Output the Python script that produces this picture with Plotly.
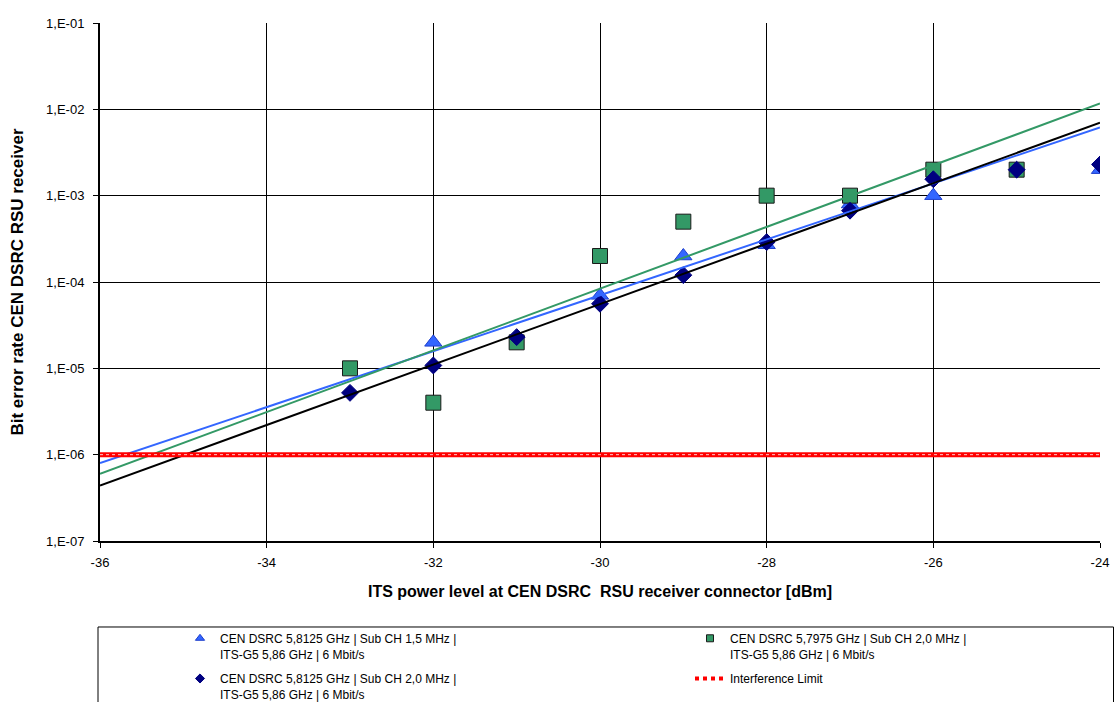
import plotly.graph_objects as go

# ---- data ----
x_tri = [-32, -30, -29, -28, -27, -26, -24]
ber_tri = [2.0e-5, 7.0e-5, 2.0e-4, 2.7e-4, 8.0e-4, 1.0e-3, 2.0e-3]

x_sq = [-33, -32, -31, -30, -29, -28, -27, -26, -25]
ber_sq = [1.0e-5, 4.0e-6, 2.0e-5, 2.0e-4, 5.0e-4, 1.0e-3, 1.0e-3, 2.0e-3, 2.0e-3]

x_dia = [-33, -32, -31, -30, -29, -28, -27, -26, -25, -24]
ber_dia = [5.2e-6, 1.08e-5, 2.3e-5, 5.6e-5, 1.2e-4, 2.9e-4, 6.7e-4, 1.55e-3, 2.0e-3, 2.3e-3]

# exponential trend lines (end values)
trend_x = [-36, -24]
trend_blue = [8.0e-7, 6.15e-3]
trend_green = [6.0e-7, 1.17e-2]
trend_black = [4.4e-7, 7.0e-3]

limit_x = [-36, -24]
limit_y = [1e-6, 1e-6]

x_tickvals = [-36, -34, -32, -30, -28, -26, -24]
x_ticktext = ["-36", "-34", "-32", "-30", "-28", "-26", "-24"]
y_tickvals = [1e-7, 1e-6, 1e-5, 1e-4, 1e-3, 1e-2, 1e-1]
y_ticktext = ["1,E-07", "1,E-06", "1,E-05", "1,E-04", "1,E-03", "1,E-02", "1,E-01"]

name_tri = "CEN DSRC 5,8125 GHz | Sub CH 1,5 MHz |<br>ITS-G5 5,86 GHz | 6 Mbit/s"
name_sq = "CEN DSRC 5,7975 GHz | Sub CH 2,0 MHz |<br>ITS-G5 5,86 GHz | 6 Mbit/s"
name_dia = "CEN DSRC 5,8125 GHz | Sub CH 2,0 MHz |<br>ITS-G5 5,86 GHz | 6 Mbit/s"
name_lim = "Interference Limit"

FONT = "Liberation Sans, Arial, sans-serif"
BLUE = "#3366FF"
GREEN = "#339966"
NAVY = "#000080"

tri_marker = dict(symbol="triangle-up", color=BLUE, line=dict(color="#1F3FCC", width=1))
sq_marker = dict(symbol="square", color=GREEN, line=dict(color="#1a1a1a", width=1))
dia_marker = dict(symbol="diamond", color=NAVY, line=dict(color=NAVY, width=1))

fig = go.Figure()

# data series
fig.add_trace(go.Scatter(x=x_tri, y=ber_tri, mode="markers", showlegend=False,
                         marker=dict(size=15, **tri_marker)))
fig.add_trace(go.Scatter(x=x_sq, y=ber_sq, mode="markers", showlegend=False,
                         marker=dict(size=15, **sq_marker)))
fig.add_trace(go.Scatter(x=x_dia, y=ber_dia, mode="markers", showlegend=False,
                         marker=dict(size=13, **dia_marker)))

# trend lines
fig.add_trace(go.Scatter(x=trend_x, y=trend_blue, mode="lines", showlegend=False,
                         line=dict(color=BLUE, width=2)))
fig.add_trace(go.Scatter(x=trend_x, y=trend_green, mode="lines", showlegend=False,
                         line=dict(color=GREEN, width=2)))
fig.add_trace(go.Scatter(x=trend_x, y=trend_black, mode="lines", showlegend=False,
                         line=dict(color="black", width=2)))

# interference limit
fig.add_trace(go.Scatter(x=limit_x, y=limit_y, mode="lines", showlegend=False,
                         line=dict(color="#FF0000", width=5)))
fig.add_trace(go.Scatter(x=limit_x, y=limit_y, mode="lines", showlegend=False,
                         line=dict(color="#FFC8C8", width=1, dash="dot")))

# legend entries (legend-only, small symbols as in the reference)
fig.add_trace(go.Scatter(x=[None], y=[None], mode="markers", name=name_tri,
                         legend="legend", legendgroup="a",
                         marker=dict(size=8, **tri_marker)))
fig.add_trace(go.Scatter(x=[None], y=[None], mode="markers", name=name_dia,
                         legend="legend", legendgroup="b",
                         marker=dict(size=7, **dia_marker)))
fig.add_trace(go.Scatter(x=[None], y=[None], mode="markers", name=name_sq,
                         legend="legend2", legendgroup="c",
                         marker=dict(size=7, **sq_marker)))
fig.add_trace(go.Scatter(x=[None], y=[None], mode="lines", name=name_lim,
                         legend="legend2", legendgroup="d",
                         line=dict(color="#FF0000", width=4, dash="dot")))

# legend frame
fig.add_shape(type="rect", xref="paper", yref="paper",
              x0=-0.002, x1=1.0135, y0=-0.33, y1=-0.166,
              line=dict(color="black", width=1), fillcolor="white", layer="below")

legend_common = dict(orientation="v", xanchor="left", yanchor="top",
                     valign="top", bgcolor="rgba(0,0,0,0)", borderwidth=0,
                     font=dict(family=FONT, size=12, color="black"),
                     traceorder="grouped", tracegroupgap=6)

fig.update_layout(
    width=1114, height=702,
    margin=dict(l=100, r=14, t=23, b=161, autoexpand=False),
    paper_bgcolor="white", plot_bgcolor="white",
    font=dict(family=FONT, size=13, color="black"),
    showlegend=True,
    legend=dict(x=0.080, y=-0.1602, **legend_common),
    legend2=dict(x=0.590, y=-0.1602, **legend_common),
    xaxis=dict(range=[-36, -24], tickvals=x_tickvals, ticktext=x_ticktext, showgrid=True,
               gridcolor="black", gridwidth=1, zeroline=False,
               showline=True, linecolor="black", linewidth=2,
               ticks="outside", ticklen=5, tickcolor="black", tickwidth=1,
               ticklabelstandoff=3,
               tickfont=dict(family=FONT, size=13),
               title=dict(text="<b>ITS power level at CEN DSRC  RSU receiver connector [dBm]</b>",
                          font=dict(family=FONT, size=16), standoff=17)),
    yaxis=dict(type="log", range=[-7, -1], tickvals=y_tickvals, ticktext=y_ticktext,
               showgrid=True, gridcolor="black", gridwidth=1, zeroline=False,
               showline=True, linecolor="black", linewidth=2,
               ticks="outside", ticklen=5, tickcolor="black", tickwidth=1,
               ticklabelstandoff=6,
               tickfont=dict(family=FONT, size=13),
               title=dict(text="<b>Bit error rate CEN DSRC RSU receiver</b>",
                          font=dict(family=FONT, size=17), standoff=18)),
)

fig.write_html("out.html")
